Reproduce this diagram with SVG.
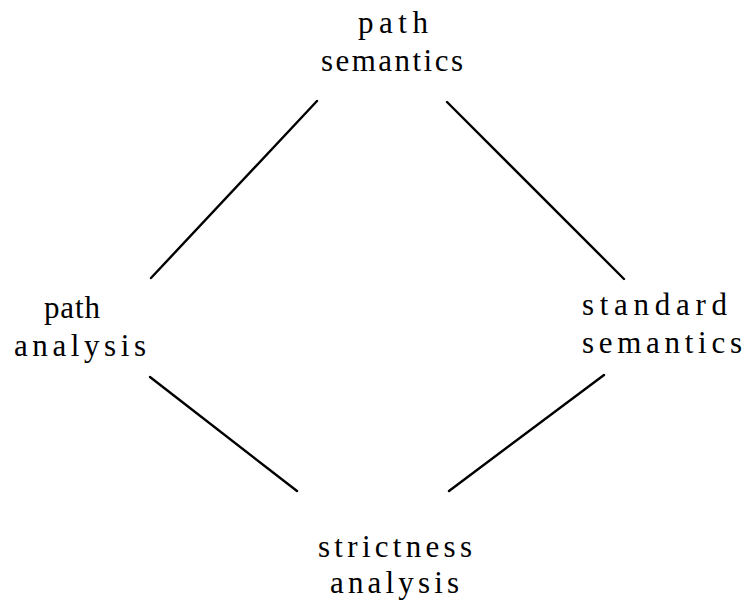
<svg xmlns="http://www.w3.org/2000/svg" width="747" height="604" viewBox="0 0 747 604">
<style>
text{font-family:"Liberation Serif","DejaVu Serif",serif;font-size:31px;fill:#000}
.c line{stroke:#000;stroke-width:2.4;stroke-linecap:round}
</style>
<rect width="747" height="604" fill="#fff"/>
<g class="c" id="connectors">
<line x1="317" y1="101" x2="151" y2="278"/>
<line x1="447" y1="102" x2="624" y2="279"/>
<line x1="150" y1="377" x2="297" y2="491"/>
<line x1="604" y1="375" x2="449" y2="491"/>
</g>
<g id="path-semantics">
<text x="358" y="33" textLength="70" lengthAdjust="spacing">path</text>
<text x="321" y="71" textLength="142" lengthAdjust="spacing">semantics</text>
</g>
<g id="path-analysis">
<text x="44" y="318" textLength="56" lengthAdjust="spacing">path</text>
<text x="14" y="356" textLength="132" lengthAdjust="spacing">analysis</text>
</g>
<g id="standard-semantics">
<text x="582" y="315" textLength="145" lengthAdjust="spacing">standard</text>
<text x="582" y="353" textLength="160" lengthAdjust="spacing">semantics</text>
</g>
<g id="strictness-analysis">
<text x="318" y="557" textLength="154" lengthAdjust="spacing">strictness</text>
<text x="330" y="593" textLength="129" lengthAdjust="spacing">analysis</text>
</g>
</svg>
